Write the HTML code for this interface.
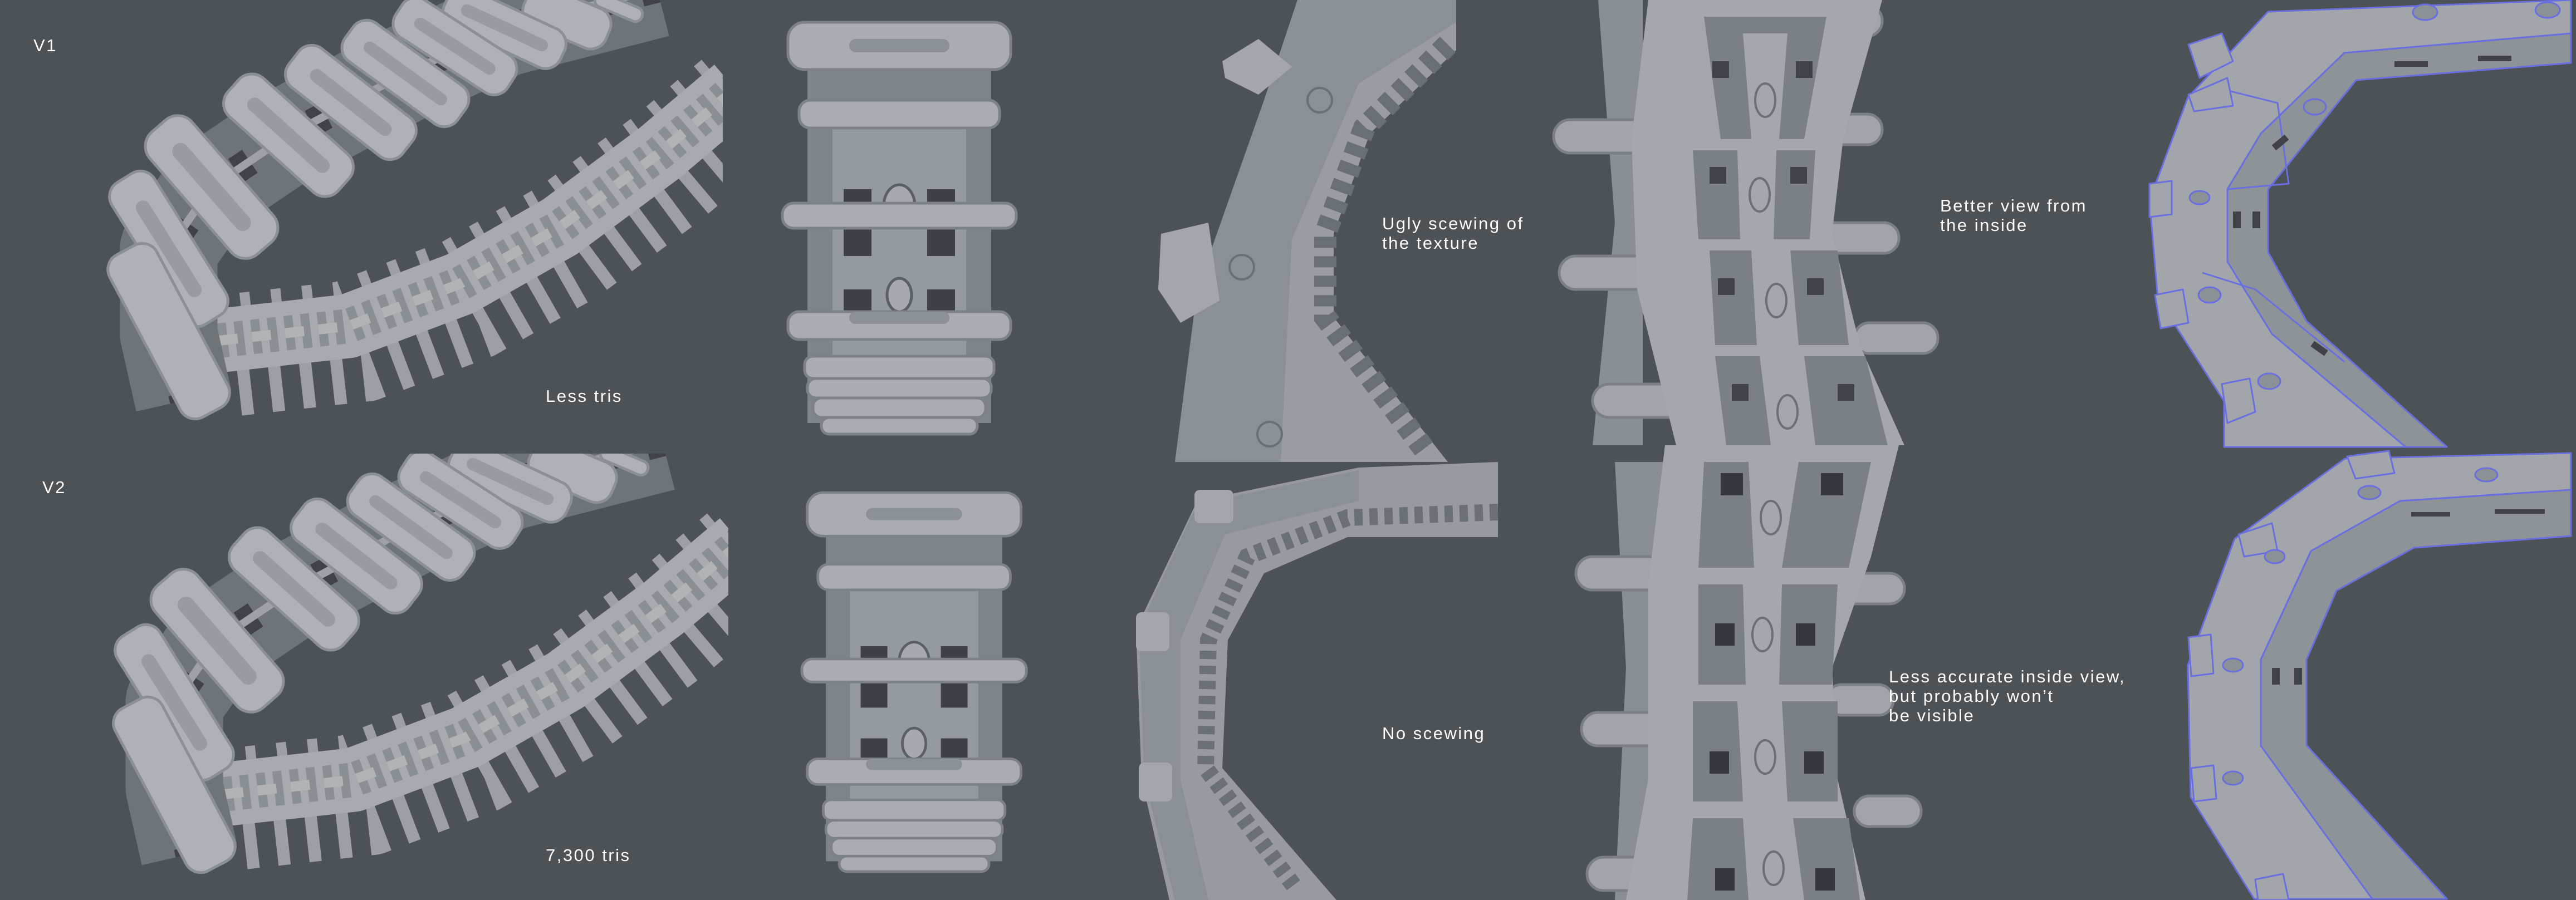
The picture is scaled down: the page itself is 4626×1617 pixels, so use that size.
<!DOCTYPE html>
<html><head><meta charset="utf-8"><style>
html,body{margin:0;padding:0;background:#4d5257;}
svg{display:block}
text{font-family:"Liberation Sans",sans-serif;fill:#fff;font-size:31px;letter-spacing:2.5px}
</style></head><body>
<svg width="4626" height="1617" viewBox="0 0 4626 1617" xmlns="http://www.w3.org/2000/svg">
<rect width="4626" height="1617" fill="#4d5257"/>
<defs>
<clipPath id="c1"><rect x="0" y="0" width="1298" height="800"/></clipPath>
<g id="track">
 <g clip-path="url(#c1)">
  <!-- lower tread teeth -->
  <polyline points="393,612 625,586 826,510 1005,408 1183,276 1320,160" fill="none" stroke="#9ca0a4" stroke-width="120" stroke-dasharray="22 34" stroke-linejoin="round" transform="translate(35,75)"/>
  <polyline points="393,612 625,586 826,510 1005,408 1183,276 1320,160" fill="none" stroke="#9ca0a4" stroke-width="70" stroke-dasharray="18 38" stroke-linejoin="round" transform="translate(-15,-45)"/>
  <!-- tread -->
  <polyline points="393,612 625,586 826,510 1005,408 1183,276 1320,160" fill="none" stroke="#a7abaf" stroke-width="115" stroke-linejoin="round"/>
  <polyline points="393,612 625,586 826,510 1005,408 1183,276 1320,160" fill="none" stroke="#8a8f94" stroke-width="62" stroke-dasharray="16 14" stroke-linejoin="round"/>
  <polyline points="393,612 625,586 826,510 1005,408 1183,276 1320,160" fill="none" stroke="#b0b4b7" stroke-width="18" stroke-dasharray="34 26" stroke-linejoin="round"/>
  <!-- arm body -->
  <polyline points="1180,-20 906,50 728,132 518,243 380,336 303,447 303,600 330,720" fill="none" stroke="#6f7479" stroke-width="175" stroke-linejoin="round"/>
  <polyline points="1180,-20 906,50 728,132 518,243 380,336 303,447 303,600 330,720" fill="none" stroke="#3f4347" stroke-width="50" stroke-dasharray="30 50" stroke-linejoin="round"/>
  <polyline points="1180,-20 906,50 728,132 518,243 380,336 303,447 303,600 330,720" fill="none" stroke="#9ea2a6" stroke-width="14" stroke-linejoin="round"/>
  <!-- pads -->
  <g fill="#aeb2b6" stroke="#8b9095" stroke-width="5">
    <rect x="-45" y="-13" width="90" height="26" rx="12" transform="translate(1111,13) rotate(23)"/>
    <rect x="-80" y="-38" width="160" height="76" rx="30" transform="translate(1018,31) rotate(23)"/>
    <rect x="-115" y="-38" width="230" height="76" rx="30" transform="translate(906,50) rotate(25)"/>
    <rect x="-120" y="-40" width="240" height="80" rx="30" transform="translate(817,83) rotate(33)"/>
    <rect x="-125" y="-42" width="250" height="84" rx="30" transform="translate(728,132) rotate(36)"/>
    <rect x="-130" y="-44" width="260" height="88" rx="30" transform="translate(630,184) rotate(38)"/>
    <rect x="-133" y="-46" width="266" height="92" rx="32" transform="translate(518,243) rotate(42)"/>
    <rect x="-145" y="-50" width="290" height="100" rx="34" transform="translate(380,336) rotate(49)"/>
    <rect x="-150" y="-45" width="300" height="90" rx="30" transform="translate(303,447) rotate(58)"/>
    <rect x="-165" y="-48" width="330" height="96" rx="30" transform="translate(303,595) rotate(62)"/>
  </g>
  <g fill="#989ca0">
    <rect x="-85" y="-11" width="170" height="22" rx="11" transform="translate(906,50) rotate(25)"/>
    <rect x="-85" y="-11" width="170" height="22" rx="11" transform="translate(817,83) rotate(33)"/>
    <rect x="-90" y="-11" width="180" height="22" rx="11" transform="translate(728,132) rotate(36)"/>
    <rect x="-90" y="-12" width="180" height="24" rx="12" transform="translate(630,184) rotate(38)"/>
    <rect x="-95" y="-13" width="190" height="26" rx="13" transform="translate(518,243) rotate(42)"/>
    <rect x="-100" y="-15" width="200" height="30" rx="15" transform="translate(380,336) rotate(49)"/>
    <rect x="-100" y="-13" width="200" height="26" rx="13" transform="translate(303,447) rotate(58)"/>
  </g>
 </g>
</g>
<g id="front">
  <rect x="45" y="40" width="330" height="680" fill="#7f8489"/>
  <rect x="90" y="140" width="240" height="560" fill="#959a9e"/>
  <g fill="#3d4145"><rect x="110" y="300" width="50" height="120"/><rect x="260" y="300" width="50" height="120"/><rect x="110" y="480" width="50" height="90"/><rect x="260" y="480" width="50" height="90"/></g>
  <ellipse cx="210" cy="330" rx="28" ry="38" fill="#a6aaae" stroke="#5b6065" stroke-width="5"/>
  <ellipse cx="210" cy="490" rx="22" ry="30" fill="#a6aaae" stroke="#5b6065" stroke-width="5"/>
  <g fill="#a9adb1" stroke="#7d8287" stroke-width="5">
    <rect x="10" y="0" width="400" height="85" rx="30"/>
    <rect x="30" y="140" width="360" height="50" rx="20"/>
    <rect x="0" y="325" width="420" height="45" rx="20"/>
    <rect x="10" y="520" width="400" height="50" rx="20"/>
    <rect x="40" y="600" width="340" height="40" rx="15"/>
    <rect x="45" y="640" width="330" height="35" rx="15"/>
    <rect x="55" y="675" width="310" height="35" rx="15"/>
    <rect x="70" y="710" width="280" height="30" rx="14"/>
  </g>
  <rect x="120" y="30" width="180" height="24" rx="12" fill="#8c9196"/>
  <rect x="120" y="520" width="180" height="22" rx="11" fill="#8c9196"/>
</g>
</defs>

<!-- Panel 1 -->
<use href="#track"/>
<use href="#track" transform="translate(10,815)"/>

<!-- Panel 2 -->
<use href="#front" transform="translate(1405,40)"/>
<use href="#front" transform="translate(1440,885) scale(0.96,0.92)"/>

<!-- Panel 3 top -->
<g>
  <polygon points="2330,0 2615,0 2615,90 2460,240 2395,420 2395,570 2600,830 2110,830 2150,520 2270,180" fill="#999da2"/>
  <polygon points="2330,0 2615,0 2615,40 2440,150 2320,430 2300,830 2110,830 2150,520 2270,180" fill="#8b9095"/>
  <path d="M2600,80 L2450,230 L2380,420 L2380,570 L2560,810" fill="none" stroke="#6a6f74" stroke-width="40" stroke-dasharray="20 15"/>
  <polygon points="2195,110 2260,70 2320,120 2260,170 2200,140" fill="#a3a7ab"/>
  <polygon points="2085,420 2170,400 2190,540 2120,580 2080,520" fill="#a3a7ab"/>
  <g fill="#8c9196" stroke="#6b7075" stroke-width="4"><circle cx="2370" cy="180" r="22"/><circle cx="2230" cy="480" r="22"/><circle cx="2280" cy="780" r="22"/></g>
</g>
<!-- Panel 3 bottom -->
<g>
  <polygon points="2690,830 2690,965 2420,965 2270,1030 2205,1150 2195,1380 2400,1617 2100,1617 2050,1400 2040,1130 2150,900 2440,840" fill="#979ba0"/>
  <polygon points="2440,845 2150,905 2045,1130 2055,1400 2110,1617 2170,1617 2120,1400 2120,1150 2200,960 2440,900" fill="#8b9095"/>
  <path d="M2690,920 L2420,930 L2240,1000 L2170,1150 L2165,1380 L2330,1600" fill="none" stroke="#6b7075" stroke-width="30" stroke-dasharray="15 12"/>
  <g fill="#a3a7ab"><rect x="2145" y="880" width="70" height="60" rx="10"/><rect x="2040" y="1100" width="60" height="70" rx="10"/><rect x="2045" y="1370" width="60" height="70" rx="10"/></g>
</g>

<!-- Panel 4 top -->
<g>
  <polygon points="2870,0 2950,0 2950,800 2860,800 2900,400" fill="#8a8f94"/>
  <g fill="#a1a5a9" stroke="#7b8085" stroke-width="5">
    <rect x="2790" y="215" width="200" height="60" rx="30"/><rect x="2800" y="460" width="200" height="60" rx="30"/><rect x="2860" y="690" width="180" height="60" rx="30"/>
    <rect x="3230" y="205" width="150" height="55" rx="27"/><rect x="3260" y="400" width="150" height="55" rx="27"/><rect x="3330" y="580" width="150" height="55" rx="27"/><rect x="3230" y="10" width="150" height="55" rx="27"/>
  </g>
  <polygon points="2960,0 3380,0 3310,250 3290,420 3340,620 3420,800 3010,800 2940,520 2930,250" fill="#a4a8ac"/>
  <g fill="#7b8085"><polygon points="3060,30 3280,30 3240,250 3090,250"/><polygon points="3040,270 3260,270 3250,430 3050,430"/><polygon points="3070,450 3300,450 3320,620 3080,620"/><polygon points="3080,640 3350,640 3390,800 3100,800"/></g>
  <g fill="#a4a8ac"><polygon points="3130,60 3210,60 3195,250 3145,250"/><polygon points="3120,270 3190,270 3185,430 3125,430"/><polygon points="3145,450 3215,450 3230,620 3155,620"/><polygon points="3160,640 3240,640 3260,800 3180,800"/></g>
  <g fill="#3f4347"><rect x="3075" y="110" width="30" height="30"/><rect x="3225" y="110" width="30" height="30"/><rect x="3070" y="300" width="30" height="30"/><rect x="3215" y="300" width="30" height="30"/><rect x="3085" y="500" width="30" height="30"/><rect x="3245" y="500" width="30" height="30"/><rect x="3110" y="690" width="30" height="30"/><rect x="3300" y="690" width="30" height="30"/></g>
  <g fill="none" stroke="#6b7075" stroke-width="4"><ellipse cx="3170" cy="180" rx="18" ry="30"/><ellipse cx="3160" cy="350" rx="18" ry="30"/><ellipse cx="3190" cy="540" rx="18" ry="30"/><ellipse cx="3210" cy="740" rx="18" ry="30"/></g>
</g>
<!-- Panel 4 bottom -->
<g>
  <polygon points="2900,830 2990,830 2990,1617 2900,1617 2920,1200" fill="#8a8f94"/>
  <g fill="#a1a5a9" stroke="#7b8085" stroke-width="5">
    <rect x="2830" y="1000" width="180" height="60" rx="30"/><rect x="2840" y="1280" width="180" height="60" rx="30"/><rect x="2850" y="1540" width="180" height="60" rx="30"/>
    <rect x="3300" y="1030" width="120" height="55" rx="27"/><rect x="3280" y="1230" width="120" height="55" rx="27"/><rect x="3330" y="1430" width="120" height="55" rx="27"/>
  </g>
  <polygon points="2990,800 3410,800 3360,1000 3290,1200 3300,1400 3350,1617 2920,1617 2960,1400 2960,1050" fill="#a4a8ac"/>
  <g fill="#7b8085"><polygon points="3060,830 3360,830 3320,1020 3050,1020"/><polygon points="3050,1050 3300,1050 3290,1230 3050,1230"/><polygon points="3040,1260 3300,1260 3300,1440 3040,1440"/><polygon points="3040,1470 3320,1470 3340,1617 3030,1617"/></g>
  <g fill="#a4a8ac"><polygon points="3140,830 3230,830 3200,1020 3150,1020"/><polygon points="3130,1050 3200,1050 3195,1230 3135,1230"/><polygon points="3120,1260 3200,1260 3210,1440 3130,1440"/><polygon points="3130,1470 3220,1470 3240,1617 3140,1617"/></g>
  <g fill="#34383c"><rect x="3090" y="850" width="40" height="40"/><rect x="3270" y="850" width="40" height="40"/><rect x="3080" y="1120" width="35" height="40"/><rect x="3225" y="1120" width="35" height="40"/><rect x="3070" y="1350" width="35" height="40"/><rect x="3240" y="1350" width="35" height="40"/><rect x="3080" y="1560" width="35" height="40"/><rect x="3260" y="1560" width="35" height="40"/></g>
  <g fill="none" stroke="#6b7075" stroke-width="4"><ellipse cx="3180" cy="930" rx="18" ry="30"/><ellipse cx="3165" cy="1140" rx="18" ry="30"/><ellipse cx="3170" cy="1360" rx="18" ry="30"/><ellipse cx="3185" cy="1560" rx="18" ry="30"/></g>
</g>

<!-- Panel 5 top -->
<g stroke="#6a6fe0" stroke-width="3" stroke-linejoin="round">
  <polygon points="4073,21 4617,0 4617,113 4231,144 4073,340 4073,453 4142,577 4394,803 3994,803 3994,721 3875,536 3860,360 3929,175" fill="#a2a6ab"/>
  <polygon points="4617,60 4210,95 4060,240 4000,340 4000,470 4080,600 4320,803 4394,803 4142,577 4073,453 4073,340 4231,144 4617,113" fill="#8e9398"/>
  <polyline points="4617,60 4210,95 4060,240 4000,340 4000,470 4080,600 4320,803" fill="none"/>
  <polyline points="3990,160 4090,185 4110,330 4000,340" fill="none"/>
  <polyline points="3955,490 4050,520 4210,650" fill="none"/>
  <g fill="#a2a6ab"><polygon points="3930,80 3990,60 4010,110 3950,140"/><polygon points="3930,170 4000,140 4010,190 3940,200"/><polygon points="3860,330 3900,325 3900,385 3860,390"/><polygon points="3870,530 3920,520 3930,580 3880,590"/><polygon points="3990,690 4040,680 4050,740 4000,760"/></g>
  <g fill="#8c9196"><ellipse cx="4157" cy="192" rx="20" ry="14"/><ellipse cx="3950" cy="355" rx="18" ry="12"/><ellipse cx="3968" cy="530" rx="20" ry="14"/><ellipse cx="4075" cy="685" rx="20" ry="14"/><ellipse cx="4355" cy="22" rx="22" ry="14"/><ellipse cx="4575" cy="18" rx="22" ry="14"/></g>
  <g fill="#3f4347" stroke="none"><rect x="4010" y="380" width="14" height="30"/><rect x="4045" y="380" width="14" height="30"/><rect x="4080" y="250" width="30" height="12" transform="rotate(-40 4095 256)"/><rect x="4150" y="620" width="30" height="12" transform="rotate(35 4165 626)"/><rect x="4300" y="110" width="60" height="10"/><rect x="4450" y="100" width="60" height="10"/></g>
</g>
<!-- Panel 5 bottom -->
<g stroke="#6a6fe0" stroke-width="3" stroke-linejoin="round">
  <polygon points="4211,824 4617,814 4617,963 4335,984 4196,1061 4142,1185 4142,1339 4394,1615 4048,1615 3934,1432 3929,1195 4013,968" fill="#a2a6ab"/>
  <polygon points="4617,880 4310,900 4150,990 4060,1185 4060,1340 4260,1615 4394,1615 4142,1339 4142,1185 4196,1061 4335,984 4617,963" fill="#8e9398"/>
  <polyline points="4617,880 4310,900 4150,990 4060,1185 4060,1340 4260,1615" fill="none"/>
  <g fill="#a2a6ab"><polygon points="4215,820 4290,810 4300,850 4230,860"/><polygon points="4020,960 4080,940 4090,990 4030,1000"/><polygon points="3930,1145 3970,1140 3975,1210 3935,1215"/><polygon points="3935,1380 3975,1375 3980,1435 3940,1440"/><polygon points="4050,1580 4100,1570 4110,1617 4055,1617"/></g>
  <g fill="#8c9196"><ellipse cx="4255" cy="885" rx="20" ry="12"/><ellipse cx="4085" cy="1000" rx="18" ry="12"/><ellipse cx="4010" cy="1195" rx="18" ry="12"/><ellipse cx="4010" cy="1398" rx="18" ry="12"/><ellipse cx="4465" cy="853" rx="20" ry="12"/></g>
  <g fill="#3f4347" stroke="none"><rect x="4080" y="1200" width="14" height="30"/><rect x="4120" y="1200" width="14" height="30"/><rect x="4330" y="920" width="70" height="8"/><rect x="4480" y="915" width="90" height="8"/></g>
</g>

<!-- Labels -->
<text x="60" y="92">V1</text>
<text x="980" y="722">Less tris</text>
<text x="76" y="886">V2</text>
<text x="980" y="1547">7,300 tris</text>
<text x="2482" y="412">Ugly scewing of</text>
<text x="2482" y="447">the texture</text>
<text x="2482" y="1328">No scewing</text>
<text x="3484" y="380">Better view from</text>
<text x="3484" y="415">the inside</text>
<text x="3392" y="1226">Less accurate inside view,</text>
<text x="3392" y="1261">but probably won’t</text>
<text x="3392" y="1296">be visible</text>
</svg>
</body></html>
